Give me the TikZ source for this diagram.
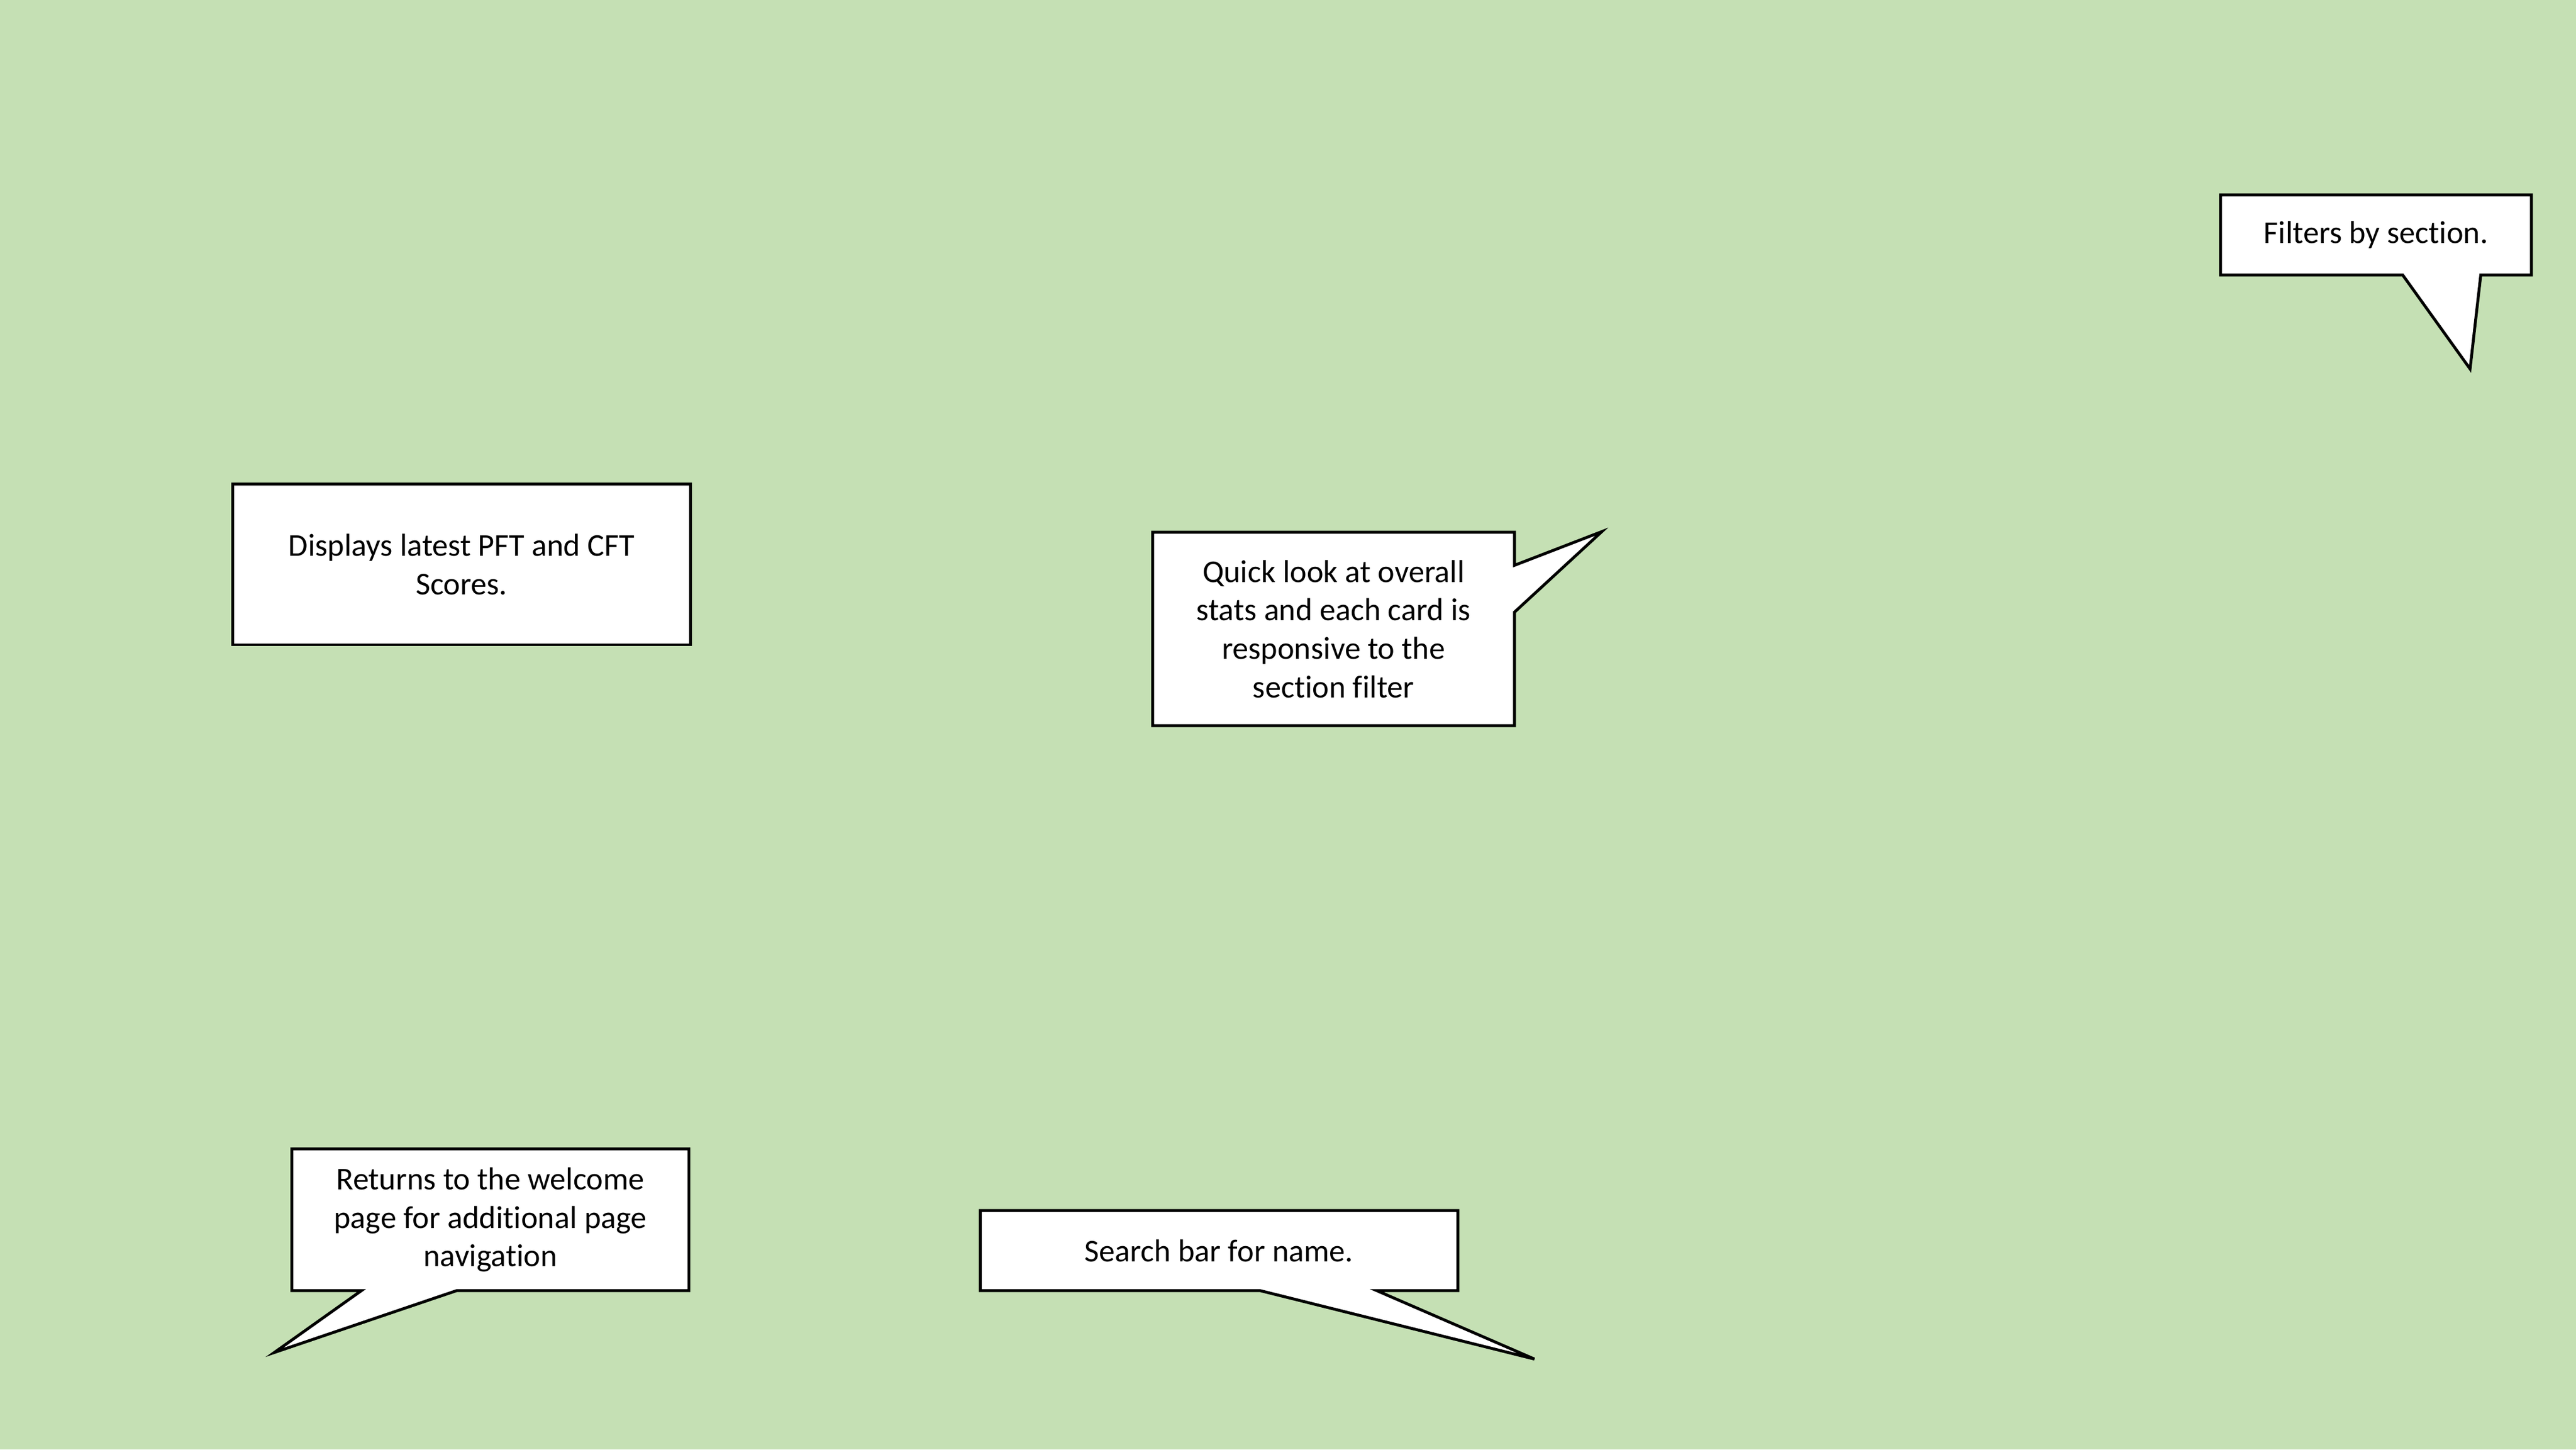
\documentclass[tikz,border=0pt]{standalone}
\usepackage{fontspec}
\setmainfont{Carlito}[Ligatures=NoCommon]
\definecolor{slidegreen}{RGB}{197,224,180}
\pgfdeclarelayer{bg}
\pgfsetlayers{bg,main}
\begin{document}
\begin{tikzpicture}[
        note/.style={inner sep=0pt, align=center, font=\fontsize{11}{13.3}\selectfont},
        callout/.style={draw, fill=white, line width=1pt, line join=miter}
    ]
        % background
        \begin{pgfonlayer}{bg}
            \fill[slidegreen] (0,0) rectangle (31.36,-17.64);
        \end{pgfonlayer}
        \useasboundingbox (0,0) rectangle (31.36,-17.64);

        % callout texts
        \node[note, minimum width=3.77cm, minimum height=0.96cm] (filters) at (28.925,-2.86) {Filters by section.};
        \node[note, minimum width=5.56cm, minimum height=1.94cm] (scores) at (5.62,-6.87) {Displays latest PFT and CFT\\Scores.};
        \node[note, minimum width=4.39cm, minimum height=2.34cm] (stats) at (16.235,-7.655) {Quick look at overall\\stats and each card is\\responsive to the\\section filter};
        \node[note, minimum width=4.82cm, minimum height=1.71cm] (welcome) at (5.97,-14.845) {Returns to the welcome\\page for additional page\\navigation};
        \node[note, minimum width=5.80cm, minimum height=0.96cm] (search) at (14.84,-15.22) {Search bar for name.};

        % pointer tips
        \coordinate (filters-tip) at (30.07,-4.49);
        \coordinate (stats-tip) at (19.50,-6.47);
        \coordinate (welcome-tip) at (3.34,-16.46);
        \coordinate (search-tip) at (18.68,-16.54);

        % callout outlines
        \begin{pgfonlayer}{bg}
            \draw[callout] (filters.north west) -- (filters.north east) -- (filters.south east)
                -- (30.20,0 |- filters.south) -- (filters-tip) -- (29.25,0 |- filters.south)
                -- (filters.south west) -- cycle;
            \draw[callout] (scores.north west) rectangle (scores.south east);
            \draw[callout] (stats.north west) -- (stats.north east) -- (stats.east |- 0,-6.88)
                -- (stats-tip) -- (stats.east |- 0,-7.45) -- (stats.south east)
                -- (stats.south west) -- cycle;
            \draw[callout] (welcome.north west) -- (welcome.north east) -- (welcome.south east)
                -- (5.56,0 |- welcome.south) -- (welcome-tip) -- (4.40,0 |- welcome.south)
                -- (welcome.south west) -- cycle;
            \draw[callout] (search.north west) -- (search.north east) -- (search.south east)
                -- (16.76,0 |- search.south) -- (search-tip) -- (15.34,0 |- search.south)
                -- (search.south west) -- cycle;
        \end{pgfonlayer}
    \end{tikzpicture}
\end{document}
